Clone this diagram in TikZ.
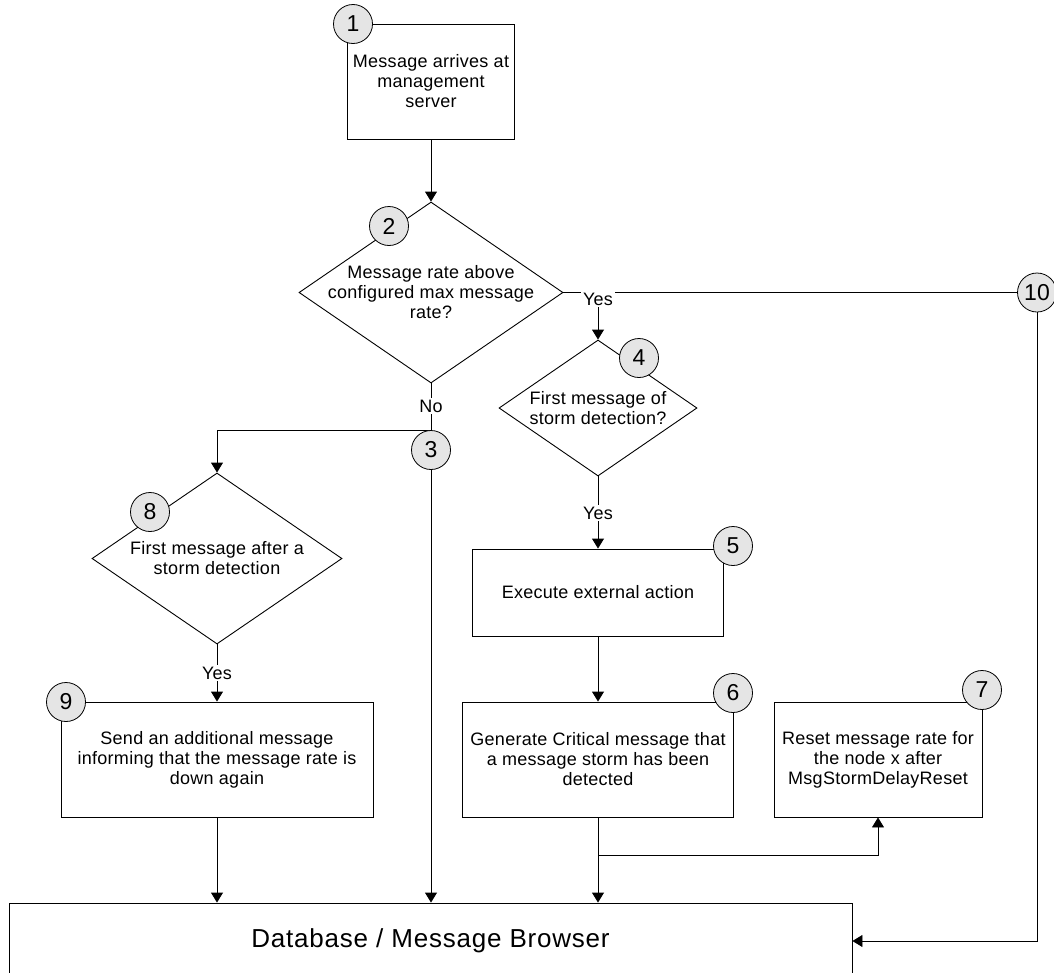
\documentclass[tikz,border=0pt]{standalone}
\usepackage{fontspec}
\setmainfont{Liberation Sans}
\newfontfamily\lblfont[LetterSpace=1.5]{Liberation Sans}
\newfontfamily\dbfont[LetterSpace=3]{Liberation Sans}
\usetikzlibrary{shapes.geometric,arrows.meta}
\pgfdeclarelayer{bg}
\pgfsetlayers{bg,main}
\begin{document}
\begin{tikzpicture}[x=1pt,y=-1pt,
  ln/.style={line width=0.9pt, draw=black},
  arr/.style={ln, -{Triangle[length=10pt,width=12pt]}},
  proc/.style={draw=black, line width=0.9pt, inner sep=0pt, align=center,
    font=\lblfont\fontsize{18}{20}\selectfont},
  dec/.style={diamond, draw=black, line width=0.9pt, inner sep=0pt},
  txt/.style={align=center, inner sep=0pt, font=\lblfont\fontsize{18}{20}\selectfont},
  num/.style={circle, draw=black, line width=0.8pt, fill=black!10, minimum size=39pt,
    inner sep=0pt, font=\fontsize{23}{23}\selectfont},
  lbl/.style={fill=white, inner sep=2pt, font=\lblfont\fontsize{18}{20}\selectfont}]
\useasboundingbox (0,0) rectangle (1054,972);

% process boxes and decisions
\node[proc, minimum width=167pt, minimum height=115pt] (b1) at (431,81.5)
  {Message arrives at\\management\\server};
\node[num] (c1) at (353,24) {1};

\node[dec, minimum width=264pt, minimum height=181pt] (d2) at (431,292.5) {};
\node[txt] (t2) at (d2.center) {Message rate above\\configured max message\\rate?};
\node[num] (c2) at (389,226) {2};

\node[dec, minimum width=198pt, minimum height=136pt] (d4) at (598,408) {};
\node[txt] (t4) at (d4.center) {First message of\\storm detection?};
\node[num] (c4) at (639,358) {4};

\node[dec, minimum width=250pt, minimum height=171pt] (d8) at (217,558.5) {};
\node[txt] (t8) at (d8.center) {First message after a\\storm detection};
\node[num] (c8) at (150,512) {8};

\node[num] (c3) at (431,450) {3};
\node[num] (c10) at (1037,292.5) {10};

\node[proc, minimum width=251pt, minimum height=87pt] (b5) at (598,592.5)
  {Execute external action};
\node[num] (c5) at (733,546) {5};

\node[proc, minimum width=271pt, minimum height=115pt] (b6) at (598,759.5)
  {Generate Critical message that\\a message storm has been\\detected};
\node[num] (c6) at (733,693) {6};

\node[proc, minimum width=208pt, minimum height=115pt] (b7) at (878,759.5)
  {Reset message rate for\\the node x after\\MsgStormDelayReset};
\node[num] (c7) at (982,690) {7};

\node[proc, minimum width=312pt, minimum height=115pt] (b9) at (217,759.5)
  {Send an additional message\\informing that the message rate is\\down again};
\node[num] (c9) at (66,702) {9};

\node[draw=black, line width=0.9pt, minimum width=843pt, minimum height=76pt, inner sep=0pt,
  font=\dbfont\fontsize{26}{26}\selectfont] (db) at (430.5,941) {Database / Message Browser};

% labels on connectors
\node[lbl] (y1) at (598,299) {Yes};
\node[lbl] (no) at (431,406) {No};
\node[lbl] (y2) at (598,513) {Yes};
\node[lbl] (y3) at (217,673) {Yes};

\coordinate (j6) at (598,855);

\begin{pgfonlayer}{bg}
\draw[arr] (b1.south) -- (d2.north);
\draw[ln] (d2.east) -- (c10.west);
\draw[arr] (y1.south) -- (d4.north);
\draw[ln] (d2.south) -- (c3.north);
\draw[arr] (c3.north) -| (d8.north);
\draw[arr] (c3.south) -- (c3.south |- db.north);
\draw[arr] (d4.south) -- (b5.north);
\draw[arr] (d8.south) -- (b9.north);
\draw[arr] (b5.south) -- (b6.north);
\draw[arr] (b6.south) -- (b6.south |- db.north);
\draw[arr] (j6) -| (b7.south);
\draw[arr] (b9.south) -- (b9.south |- db.north);
\draw[arr] (c10.south) |- (db.east);
\end{pgfonlayer}
\end{tikzpicture}
\end{document}
